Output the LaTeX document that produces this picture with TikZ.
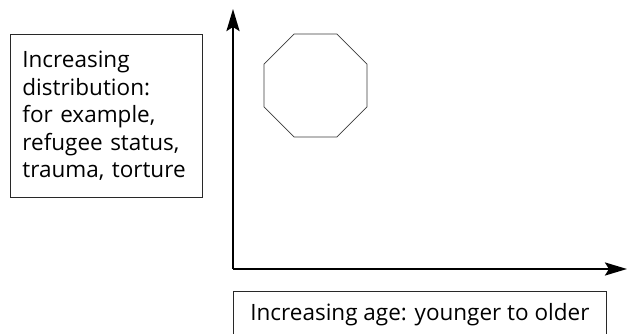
\documentclass[tikz,border=0pt]{standalone}
\usepackage{fontspec}
\setmainfont{Open Sans}
\usepackage{tikz}
\usetikzlibrary{arrows.meta, positioning, shapes.geometric}
\definecolor{boxcolor}{RGB}{40,40,40}
\definecolor{shapecolor}{RGB}{60,60,60}
\tikzset{
  labelbox/.style={draw=boxcolor, line width=0.8pt, font=\fontsize{22.5}{27.5}\selectfont,
                   align=left, inner xsep=12pt},
  axis/.style={-{Stealth[length=22pt, width=13pt, inset=4pt]}, line width=2.6pt, draw=black},
  octa/.style={draw=shapecolor, line width=0.7pt, regular polygon,
               regular polygon sides=8, minimum size=111.5pt, inner sep=0pt},
}

\begin{document}
\begin{tikzpicture}[x=1pt, y=-1pt]

  \useasboundingbox (0,0) rectangle (627,334);

  % --- Axes ---
  \coordinate (origin) at (233,269);
  \coordinate (ytip) at (233,9);
  \coordinate (xtip) at (627,269);

  \draw[axis] (origin) -- (ytip);
  \draw[axis] (origin) -- (xtip);

  % --- Group ---
  \node[octa] (group) at (315.5,85.5) {};

  % --- Labels ---
  \node[labelbox, anchor=north west, text width=168pt, minimum width=192pt,
        minimum height=163pt]
    (distlabel) at (10,34)
    {Increasing\\distribution:\\for example,\\refugee status,\\trauma, torture};

  \node[labelbox, anchor=north west, minimum width=373pt, inner ysep=12pt,
        text depth=30pt]
    (agelabel) at (233,291)
    {Increasing age: younger to older};

\end{tikzpicture}
\end{document}
